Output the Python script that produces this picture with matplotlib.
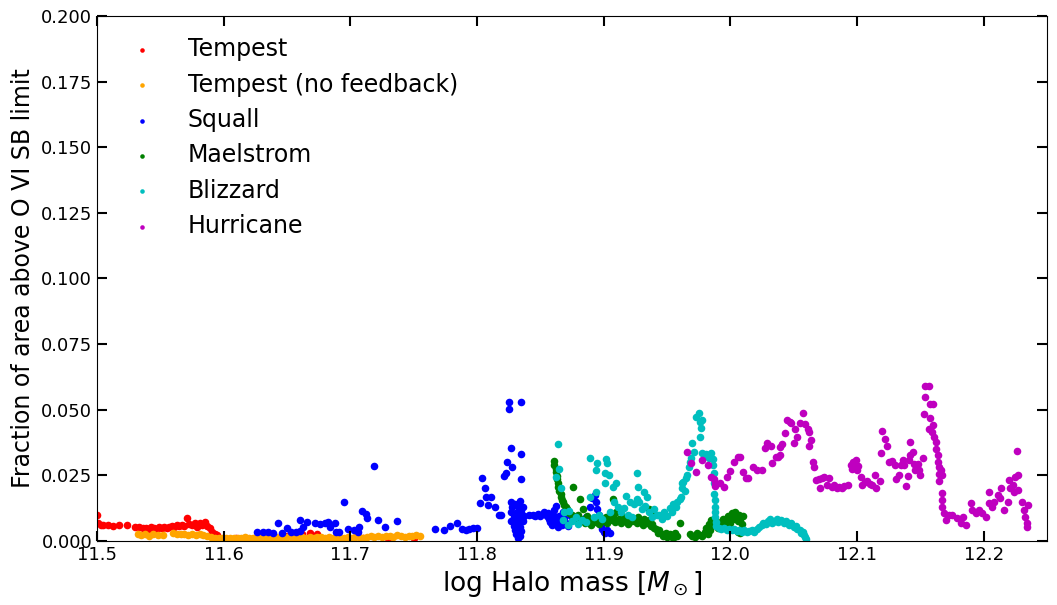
import matplotlib
matplotlib.use("Agg")
import matplotlib.pyplot as plt

# Tempest
tempest_x = [11.500, 11.501, 11.503, 11.505, 11.509, 11.513, 11.517, 11.524, 11.530, 11.533,
             11.536, 11.539, 11.541, 11.543, 11.545, 11.547, 11.549, 11.551, 11.553, 11.555,
             11.557, 11.559, 11.561, 11.563, 11.565, 11.567, 11.569, 11.571, 11.573, 11.575,
             11.577, 11.579, 11.581, 11.583, 11.585, 11.587, 11.589, 11.591, 11.593, 11.595,
             11.610, 11.630, 11.650, 11.662, 11.668, 11.674, 11.690, 11.710, 11.730, 11.750]
tempest_y = [0.0099, 0.0069, 0.0062, 0.0060, 0.0061, 0.0058, 0.0060, 0.0060, 0.0055, 0.0052,
             0.0048, 0.0050, 0.0046, 0.0052, 0.0049, 0.0047, 0.0053, 0.0050, 0.0055, 0.0048,
             0.0052, 0.0058, 0.0054, 0.0060, 0.0056, 0.0062, 0.0058, 0.0086, 0.0065, 0.0060,
             0.0070, 0.0055, 0.0068, 0.0062, 0.0072, 0.0058, 0.0050, 0.0035, 0.0028, 0.0022,
             0.0012, 0.0015, 0.0018, 0.0027, 0.0029, 0.0025, 0.0014, 0.0010, 0.0010, 0.0012]

# Tempest (no feedback)
nofb_x = [11.532, 11.535, 11.538, 11.541, 11.544, 11.548, 11.552, 11.560, 11.563, 11.566,
          11.569, 11.572, 11.575, 11.578, 11.581, 11.584, 11.587, 11.590, 11.593, 11.596,
          11.599, 11.602, 11.605, 11.608, 11.611, 11.614, 11.617, 11.620, 11.623, 11.626,
          11.629, 11.632, 11.635, 11.638, 11.641, 11.644, 11.647, 11.650, 11.653, 11.656,
          11.659, 11.662, 11.665, 11.668, 11.671, 11.674, 11.677, 11.680, 11.683, 11.686,
          11.689, 11.692, 11.695, 11.698, 11.701, 11.704, 11.707, 11.710, 11.713, 11.716,
          11.719, 11.722, 11.725, 11.728, 11.731, 11.734, 11.737, 11.740, 11.743, 11.746,
          11.749, 11.752, 11.755]
nofb_y = [0.0028, 0.0022, 0.0025, 0.0020, 0.0026, 0.0021, 0.0024, 0.0030, 0.0027, 0.0025,
          0.0028, 0.0024, 0.0026, 0.0022, 0.0025, 0.0021, 0.0020, 0.0016, 0.0012, 0.0010,
          0.0011, 0.0012, 0.0010, 0.0013, 0.0011, 0.0012, 0.0014, 0.0012, 0.0011, 0.0013,
          0.0012, 0.0014, 0.0013, 0.0011, 0.0015, 0.0013, 0.0012, 0.0014, 0.0016, 0.0013,
          0.0012, 0.0015, 0.0013, 0.0014, 0.0012, 0.0016, 0.0014, 0.0013, 0.0015, 0.0012,
          0.0014, 0.0013, 0.0011, 0.0014, 0.0012, 0.0015, 0.0017, 0.0013, 0.0016, 0.0018,
          0.0015, 0.0019, 0.0017, 0.0020, 0.0018, 0.0016, 0.0021, 0.0019, 0.0017, 0.0020,
          0.0018, 0.0022, 0.0019]

# Squall
squall_x = [11.626, 11.631, 11.635, 11.639, 11.643, 11.646, 11.650, 11.653, 11.657, 11.660,
            11.660, 11.663, 11.666, 11.672, 11.676, 11.680, 11.682, 11.684, 11.688, 11.689,
            11.691, 11.695, 11.698, 11.719, 11.703, 11.706, 11.707, 11.709, 11.712, 11.713,
            11.722, 11.727, 11.737, 11.767, 11.774, 11.779, 11.784, 11.788, 11.791, 11.794,
            11.797, 11.800, 11.804, 11.806, 11.807, 11.802, 11.809, 11.811, 11.814, 11.817,
            11.819, 11.821, 11.823, 11.824, 11.827, 11.828, 11.825, 11.825, 11.835, 11.835,
            11.835, 11.827, 11.830, 11.834, 11.828, 11.833, 11.836, 11.827, 11.831, 11.835,
            11.829, 11.834, 11.837, 11.827, 11.832, 11.836, 11.829, 11.834, 11.830, 11.835,
            11.831, 11.834, 11.832, 11.841, 11.844, 11.846, 11.848, 11.850, 11.852, 11.853,
            11.855, 11.856, 11.857, 11.858, 11.859, 11.860, 11.861, 11.862, 11.862, 11.863,
            11.864, 11.865, 11.866, 11.867, 11.868, 11.869, 11.870, 11.872, 11.874, 11.876,
            11.886, 11.889, 11.891, 11.893, 11.894, 11.895, 11.896, 11.897, 11.898, 11.899,
            11.900, 11.901, 11.903, 11.905]
squall_y = [0.0033, 0.0036, 0.0036, 0.0032, 0.0070, 0.0030, 0.0048, 0.0033, 0.0033, 0.0080,
            0.0038, 0.0055, 0.0074, 0.0067, 0.0065, 0.0070, 0.0074, 0.0055, 0.0067, 0.0033,
            0.0033, 0.0150, 0.0044, 0.0287, 0.0042, 0.0036, 0.0055, 0.0116, 0.0103, 0.0086,
            0.0080, 0.0055, 0.0077, 0.0044, 0.0042, 0.0057, 0.0067, 0.0046, 0.0042, 0.0046,
            0.0048, 0.0050, 0.0239, 0.0203, 0.0169, 0.0144, 0.0137, 0.0166, 0.0128, 0.0099,
            0.0100, 0.0248, 0.0260, 0.0302, 0.0356, 0.0281, 0.0531, 0.0503, 0.0528, 0.0331,
            0.0235, 0.0150, 0.0140, 0.0152, 0.0128, 0.0125, 0.0130, 0.0110, 0.0105, 0.0112,
            0.0092, 0.0090, 0.0095, 0.0075, 0.0072, 0.0078, 0.0058, 0.0055, 0.0040, 0.0038,
            0.0025, 0.0020, 0.0012, 0.0098, 0.0100, 0.0095, 0.0102, 0.0097, 0.0104, 0.0110,
            0.0094, 0.0108, 0.0085, 0.0072, 0.0060, 0.0100, 0.0118, 0.0135, 0.0080, 0.0065,
            0.0053, 0.0095, 0.0075, 0.0060, 0.0110, 0.0088, 0.0070, 0.0058, 0.0095, 0.0080,
            0.0090, 0.0130, 0.0165, 0.0175, 0.0150, 0.0120, 0.0100, 0.0080, 0.0060, 0.0045,
            0.0035, 0.0030, 0.0040, 0.0032]

# Maelstrom
maelstrom_x = [11.861, 11.861, 11.862, 11.862, 11.863, 11.863, 11.864, 11.864, 11.865, 11.866,
               11.866, 11.867, 11.868, 11.869, 11.870, 11.871, 11.872, 11.873, 11.875, 11.876,
               11.881, 11.907, 11.877, 11.879, 11.880, 11.882, 11.884, 11.885, 11.887, 11.889,
               11.890, 11.892, 11.894, 11.896, 11.898, 11.900, 11.902, 11.903, 11.905, 11.907,
               11.909, 11.910, 11.912, 11.914, 11.915, 11.917, 11.919, 11.920, 11.922, 11.924,
               11.926, 11.927, 11.929, 11.931, 11.932, 11.934, 11.936, 11.937, 11.938, 11.940,
               11.936, 11.938, 11.941, 11.943, 11.944, 11.946, 11.947, 11.949, 11.950, 11.952,
               11.953, 11.955, 11.956, 11.958, 11.960, 11.968, 11.970, 11.972, 11.974, 11.976,
               11.978, 11.980, 11.981, 11.982, 11.983, 11.984, 11.985, 11.987, 11.989, 11.990,
               11.992, 11.994, 11.995, 11.997, 11.998, 12.000, 12.001, 12.002, 12.004, 12.005,
               12.006, 12.007, 12.008, 12.009, 12.010, 12.006, 12.008]
maelstrom_y = [0.0305, 0.0290, 0.0275, 0.0262, 0.0248, 0.0235, 0.0220, 0.0205, 0.0192, 0.0180,
               0.0168, 0.0158, 0.0148, 0.0138, 0.0128, 0.0120, 0.0112, 0.0105, 0.0098, 0.0207,
               0.0160, 0.0160, 0.0090, 0.0075, 0.0100, 0.0085, 0.0120, 0.0070, 0.0095, 0.0080,
               0.0060, 0.0088, 0.0072, 0.0065, 0.0085, 0.0075, 0.0090, 0.0068, 0.0080, 0.0095,
               0.0072, 0.0110, 0.0085, 0.0070, 0.0092, 0.0078, 0.0065, 0.0088, 0.0075, 0.0082,
               0.0068, 0.0090, 0.0075, 0.0060, 0.0085, 0.0070, 0.0080, 0.0058, 0.0065, 0.0050,
               0.0120, 0.0105, 0.0045, 0.0030, 0.0040, 0.0025, 0.0018, 0.0032, 0.0015, 0.0028,
               0.0020, 0.0012, 0.0030, 0.0018, 0.0069, 0.0028, 0.0020, 0.0015, 0.0030, 0.0022,
               0.0018, 0.0035, 0.0050, 0.0025, 0.0065, 0.0040, 0.0080, 0.0060, 0.0075, 0.0050,
               0.0068, 0.0085, 0.0062, 0.0078, 0.0095, 0.0070, 0.0105, 0.0082, 0.0110, 0.0090,
               0.0075, 0.0100, 0.0085, 0.0065, 0.0095, 0.0035, 0.0030]

# Blizzard
blizzard_x = [11.864, 11.865, 11.862, 11.866, 11.869, 11.873, 11.868, 11.872, 11.875, 11.878,
              11.880, 11.883, 11.886, 11.889, 11.895, 11.902, 11.903, 11.894, 11.901, 11.904,
              11.901, 11.910, 11.907, 11.894, 11.889, 11.926, 11.927, 11.932, 11.934, 11.918,
              11.921, 11.924, 11.926, 11.908, 11.911, 11.914, 11.916, 11.919, 11.922, 11.928,
              11.930, 11.933, 11.936, 11.938, 11.940, 11.942, 11.896, 11.899, 11.892, 11.905,
              11.944, 11.946, 11.948, 11.950, 11.952, 11.954, 11.955, 11.957, 11.958, 11.960,
              11.961, 11.962, 11.962, 11.963, 11.964, 11.965, 11.966, 11.967, 11.968, 11.969,
              11.970, 11.971, 11.973, 11.975, 11.976, 11.977, 11.976, 11.978, 11.978, 11.980,
              11.981, 11.983, 11.985, 11.986, 11.986, 11.987, 11.987, 11.987, 11.988, 11.988,
              11.988, 11.988, 11.989, 11.989, 11.991, 11.993, 11.995, 11.997, 11.999, 12.001,
              12.003, 12.005, 12.007, 12.009, 12.011, 12.013, 12.015, 12.017, 12.019, 12.021,
              12.023, 12.025, 12.026, 12.028, 12.030, 12.031, 12.033, 12.035, 12.037, 12.038,
              12.040, 12.042, 12.044, 12.046, 12.048, 12.050, 12.052, 12.053, 12.055, 12.056,
              12.057, 12.058, 12.059, 12.060]
blizzard_y = [0.0370, 0.0273, 0.0245, 0.0200, 0.0112, 0.0116, 0.0080, 0.0060, 0.0075, 0.0090,
              0.0065, 0.0080, 0.0072, 0.0315, 0.0296, 0.0311, 0.0296, 0.0270, 0.0260, 0.0251,
              0.0220, 0.0220, 0.0204, 0.0188, 0.0169, 0.0260, 0.0207, 0.0188, 0.0166, 0.0170,
              0.0150, 0.0140, 0.0160, 0.0150, 0.0130, 0.0110, 0.0125, 0.0100, 0.0090, 0.0150,
              0.0120, 0.0135, 0.0110, 0.0090, 0.0120, 0.0100, 0.0100, 0.0085, 0.0090, 0.0110,
              0.0100, 0.0085, 0.0110, 0.0095, 0.0125, 0.0110, 0.0140, 0.0130, 0.0150, 0.0160,
              0.0169, 0.0200, 0.0220, 0.0225, 0.0190, 0.0240, 0.0251, 0.0283, 0.0300, 0.0315,
              0.0372, 0.0340, 0.0473, 0.0486, 0.0455, 0.0429, 0.0397, 0.0461, 0.0334, 0.0325,
              0.0330, 0.0318, 0.0334, 0.0312, 0.0290, 0.0260, 0.0220, 0.0180, 0.0156, 0.0130,
              0.0110, 0.0090, 0.0072, 0.0058, 0.0050, 0.0045, 0.0048, 0.0042, 0.0046, 0.0040,
              0.0044, 0.0038, 0.0042, 0.0036, 0.0040, 0.0035, 0.0038, 0.0042, 0.0036, 0.0045,
              0.0052, 0.0060, 0.0070, 0.0065, 0.0075, 0.0082, 0.0070, 0.0078, 0.0085, 0.0072,
              0.0080, 0.0068, 0.0075, 0.0062, 0.0068, 0.0055, 0.0058, 0.0045, 0.0040, 0.0030,
              0.0035, 0.0022, 0.0015, 0.0008]

# Hurricane
hurricane_x = [11.966, 11.969, 11.973, 11.978, 11.982, 11.985, 11.987, 11.988, 11.988, 11.992,
               11.995, 11.997, 12.000, 12.003, 12.006, 12.008, 12.010, 12.012, 12.014, 12.018,
               12.021, 12.025, 12.027, 12.029, 12.032, 12.033, 12.036, 12.038, 12.039, 12.039,
               12.041, 12.043, 12.045, 12.047, 12.048, 12.050, 12.051, 12.053, 12.055, 12.057,
               12.059, 12.061, 12.062, 12.062, 12.064, 12.065, 12.066, 12.068, 12.070, 12.071,
               12.072, 12.074, 12.076, 12.078, 12.080, 12.082, 12.084, 12.086, 12.088, 12.090,
               12.093, 12.095, 12.096, 12.097, 12.099, 12.100, 12.101, 12.103, 12.104, 12.106,
               12.108, 12.110, 12.112, 12.114, 12.115, 12.118, 12.119, 12.120, 12.122, 12.124,
               12.125, 12.128, 12.130, 12.131, 12.133, 12.135, 12.136, 12.137, 12.139, 12.140,
               12.141, 12.142, 12.142, 12.144, 12.145, 12.146, 12.148, 12.149, 12.150, 12.152,
               12.154, 12.157, 12.154, 12.158, 12.160, 12.153, 12.158, 12.160, 12.157, 12.159,
               12.161, 12.162, 12.162, 12.164, 12.164, 12.165, 12.166, 12.165, 12.165, 12.167,
               12.167, 12.167, 12.167, 12.169, 12.170, 12.173, 12.175, 12.179, 12.182, 12.184,
               12.186, 12.190, 12.191, 12.194, 12.196, 12.199, 12.202, 12.204, 12.204, 12.207,
               12.208, 12.211, 12.213, 12.214, 12.216, 12.219, 12.220, 12.221, 12.223, 12.224,
               12.225, 12.226, 12.227, 12.227, 12.230, 12.232, 12.233, 12.234, 12.235, 12.234]
hurricane_y = [0.0340, 0.0296, 0.0264, 0.0310, 0.0290, 0.0245, 0.0236, 0.0220, 0.0210, 0.0220,
               0.0207, 0.0245, 0.0268, 0.0302, 0.0320, 0.0320, 0.0264, 0.0239, 0.0239, 0.0281,
               0.0270, 0.0270, 0.0353, 0.0372, 0.0360, 0.0298, 0.0320, 0.0320, 0.0358, 0.0328,
               0.0370, 0.0410, 0.0461, 0.0455, 0.0448, 0.0372, 0.0427, 0.0398, 0.0448, 0.0489,
               0.0444, 0.0427, 0.0416, 0.0362, 0.0385, 0.0302, 0.0281, 0.0232, 0.0236, 0.0200,
               0.0240, 0.0244, 0.0213, 0.0240, 0.0206, 0.0215, 0.0200, 0.0205, 0.0202, 0.0208,
               0.0213, 0.0290, 0.0275, 0.0300, 0.0309, 0.0270, 0.0285, 0.0244, 0.0213, 0.0225,
               0.0228, 0.0218, 0.0213, 0.0250, 0.0200, 0.0228, 0.0334, 0.0419, 0.0389, 0.0360,
               0.0300, 0.0304, 0.0290, 0.0236, 0.0250, 0.0290, 0.0310, 0.0290, 0.0210, 0.0248,
               0.0310, 0.0328, 0.0378, 0.0340, 0.0295, 0.0270, 0.0295, 0.0270, 0.0250, 0.0315,
               0.0590, 0.0590, 0.0550, 0.0520, 0.0520, 0.0483, 0.0467, 0.0441, 0.0425, 0.0416,
               0.0397, 0.0378, 0.0352, 0.0327, 0.0302, 0.0283, 0.0270, 0.0257, 0.0230, 0.0250,
               0.0181, 0.0156, 0.0130, 0.0105, 0.0080, 0.0099, 0.0099, 0.0086, 0.0067, 0.0092,
               0.0061, 0.0143, 0.0118, 0.0105, 0.0118, 0.0105, 0.0092, 0.0143, 0.0187, 0.0130,
               0.0150, 0.0175, 0.0162, 0.0200, 0.0118, 0.0150, 0.0232, 0.0200, 0.0213, 0.0187,
               0.0245, 0.0344, 0.0251, 0.0194, 0.0150, 0.0118, 0.0092, 0.0067, 0.0137, 0.0054]

SERIES = [
    ("Tempest", "red", tempest_x, tempest_y),
    ("Tempest (no feedback)", "orange", nofb_x, nofb_y),
    ("Squall", "b", squall_x, squall_y),
    ("Maelstrom", "g", maelstrom_x, maelstrom_y),
    ("Blizzard", "c", blizzard_x, blizzard_y),
    ("Hurricane", "m", hurricane_x, hurricane_y),
]

fig = plt.figure(figsize=(10.57, 6.05), dpi=100)
ax = fig.add_axes([0.0918, 0.1058, 0.8987, 0.8678])

for label, color, xs, ys in SERIES:
    ax.scatter(xs, ys, s=30, color=color, label=label, linewidths=0)

ax.set_xlim(11.5, 12.25)
ax.set_ylim(0, 0.2)
ax.set_xlabel(r"log Halo mass [$M_\odot$]", fontsize=19)
ax.set_ylabel("Fraction of area above O VI SB limit", fontsize=17)
ax.tick_params(axis="both", which="major", direction="in", length=7, width=1.5,
               top=True, right=True, labelsize=13)
ax.legend(loc="upper left", frameon=False, fontsize=17, markerscale=0.6,
          handletextpad=0.95, labelspacing=0.48)

fig.savefig("out.png", dpi=100)
